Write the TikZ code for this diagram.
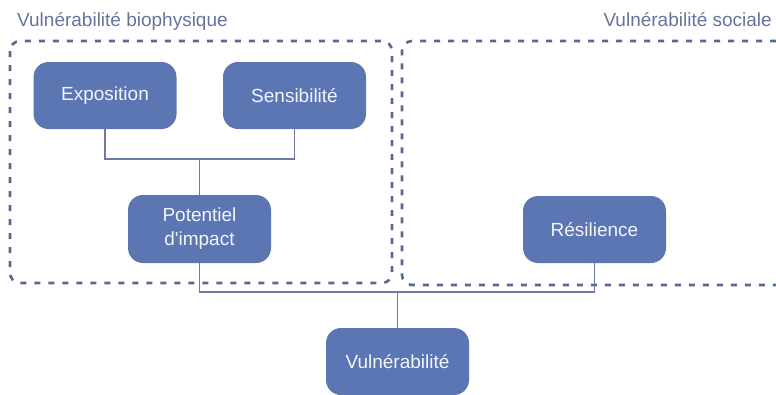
\documentclass[tikz,border=0pt]{standalone}
\usepackage{fontspec}
\newfontfamily\arialf{Liberation Sans}
\definecolor{boxfill}{RGB}{92,118,180}
\definecolor{dashcol}{RGB}{88,104,145}
\definecolor{linecol}{RGB}{108,123,163}
\definecolor{labcol}{RGB}{100,116,156}
\definecolor{boxtext}{RGB}{242,245,252}
\tikzset{
  blockbox/.style={draw=none, fill=boxfill, rounded corners=15pt, minimum width=143pt, minimum height=67pt,
    inner sep=0pt, text=boxtext, font=\arialf\fontsize{19}{24}\selectfont, align=center},
  grouplabel/.style={text=labcol, font=\arialf\fontsize{19}{23}\selectfont, inner sep=0pt},
  groupframe/.style={draw=dashcol, line width=2.6pt, dash pattern=on 6pt off 8pt, rounded corners=10pt},
  conn/.style={draw=linecol, line width=1.6pt}
}
\begin{document}
\begin{tikzpicture}[x=1pt,y=-1pt]
\useasboundingbox (0,0) rectangle (776,394);
% group frames
\draw[groupframe] (10,41) rectangle (392,283);
\draw[groupframe] (790,41) -- (402,41) -- (402,285) -- (790,285);
% group labels
\node[grouplabel, anchor=base west] (lbio) at (17,26) {Vulnérabilité biophysique};
\node[grouplabel, anchor=base east] (lsoc) at (772,26) {Vulnérabilité sociale};
% blocks
\node[blockbox] (expo) at (105,95.5) {Exposition};
\node[blockbox] (sens) at (294.5,95.5) {Sensibilité};
\node[blockbox, minimum height=68pt] (pot) at (199.5,229) {Potentiel\\d'impact};
\node[blockbox] (res) at (594.5,229.5) {Résilience};
\node[blockbox] (vul) at (397.5,361.5) {Vulnérabilité};
% connectors
\coordinate (j1) at (199.5,159);
\coordinate (j2) at (397.5,292);
\draw[conn] (expo.south) |- (j1) -| (sens.south);
\draw[conn] (j1) -- (pot.north);
\draw[conn] (pot.south) |- (j2) -| (res.south);
\draw[conn] (j2) -- (vul.north);
\end{tikzpicture}
\end{document}
